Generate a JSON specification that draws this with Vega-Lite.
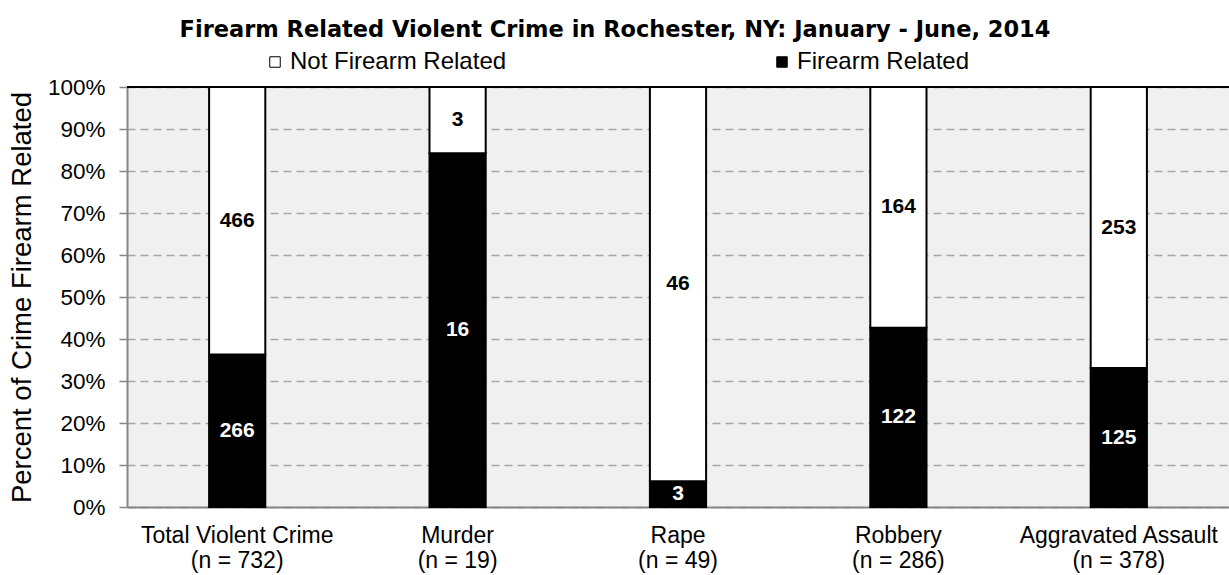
{
  "$schema": "https://vega.github.io/schema/vega-lite/v6.json",
  "width": 1102,
  "height": 420,
  "autosize": {"type": "none"},
  "padding": {"left": 127, "top": 87, "right": 0, "bottom": 68},
  "background": "white",
  "title": {
    "text": "Firearm Related Violent Crime in Rochester, NY: January - June, 2014",
    "font": "DejaVu Sans",
    "fontSize": 22.5,
    "fontWeight": "bold",
    "color": "black",
    "anchor": "middle",
    "frame": "group",
    "dx": -63,
    "offset": 9
  },
  "config": {
    "view": {"fill": "#f0f0f0", "stroke": null},
    "font": "Liberation Sans"
  },
  "data": {
    "values": [
      {"crime": "Total Violent Crime|(n = 732)", "type": "Firearm Related", "count": 266, "ord": 0},
      {"crime": "Total Violent Crime|(n = 732)", "type": "Not Firearm Related", "count": 466, "ord": 1},
      {"crime": "Murder|(n = 19)", "type": "Firearm Related", "count": 16, "ord": 0},
      {"crime": "Murder|(n = 19)", "type": "Not Firearm Related", "count": 3, "ord": 1},
      {"crime": "Rape|(n = 49)", "type": "Firearm Related", "count": 3, "ord": 0},
      {"crime": "Rape|(n = 49)", "type": "Not Firearm Related", "count": 46, "ord": 1},
      {"crime": "Robbery|(n = 286)", "type": "Firearm Related", "count": 122, "ord": 0},
      {"crime": "Robbery|(n = 286)", "type": "Not Firearm Related", "count": 164, "ord": 1},
      {"crime": "Aggravated Assault|(n = 378)", "type": "Firearm Related", "count": 125, "ord": 0},
      {"crime": "Aggravated Assault|(n = 378)", "type": "Not Firearm Related", "count": 253, "ord": 1}
    ]
  },
  "transform": [
    {"stack": "count", "groupby": ["crime"], "sort": [{"field": "ord", "order": "ascending"}], "as": ["y0", "y1"], "offset": "normalize"},
    {"calculate": "(datum.y0 + datum.y1) / 2", "as": "ymid"}
  ],
  "layer": [
    {
      "mark": {"type": "bar", "stroke": "black", "strokeWidth": 2},
      "encoding": {
        "x": {
          "field": "crime",
          "type": "nominal",
          "sort": null,
          "scale": {"paddingInner": 0.745, "paddingOuter": 0.3725},
          "axis": {
            "title": null,
            "labelAngle": 0,
            "labelExpr": "split(datum.label, '|')",
            "labelFontSize": 23,
            "labelColor": "black",
            "labelLineHeight": 25,
            "labelPadding": 17,
            "labelLimit": 400,
            "ticks": false,
            "domainColor": "#868686",
            "domainWidth": 2,
            "grid": false
          }
        },
        "y": {
          "field": "y0",
          "type": "quantitative",
          "scale": {"domain": [0, 1]},
          "axis": {
            "title": "Percent of Crime Firearm Related",
            "titleFontSize": 27.5,
            "titleFontWeight": "normal",
            "titleColor": "black",
            "titlePadding": 11,
            "values": [0, 0.1, 0.2, 0.3, 0.4, 0.5, 0.6, 0.7, 0.8, 0.9, 1],
            "format": ".0%",
            "labelFontSize": 22.5,
            "labelColor": "black",
            "labelPadding": 14,
            "tickColor": "#868686",
            "tickSize": 8,
            "tickWidth": 1.5,
            "domainColor": "#868686",
            "domainWidth": 2,
            "grid": true,
            "gridColor": "#a6a6a6",
            "gridDash": [8, 5],
            "gridWidth": 1.5
          }
        },
        "y2": {"field": "y1"},
        "fill": {
          "field": "type",
          "type": "nominal",
          "scale": {"domain": ["Not Firearm Related", "Firearm Related"], "range": ["white", "black"]},
          "legend": {
            "title": null,
            "orient": "none",
            "legendX": 136,
            "legendY": -37,
            "direction": "horizontal",
            "symbolType": "square",
            "symbolSize": 110,
            "symbolStrokeColor": "black",
            "symbolStrokeWidth": 1,
            "labelFontSize": 24,
            "labelColor": "black",
            "labelOffset": 3,
            "columnPadding": 263,
            "labelLimit": 400
          }
        }
      }
    },
    {
      "mark": {"type": "rule", "color": "black", "strokeWidth": 2},
      "encoding": {"y": {"datum": 1}}
    },
    {
      "mark": {"type": "text", "fontSize": 21, "fontWeight": "bold", "baseline": "middle"},
      "encoding": {
        "x": {"field": "crime", "type": "nominal", "sort": null},
        "y": {"field": "ymid", "type": "quantitative"},
        "text": {"field": "count", "type": "quantitative"},
        "color": {
          "condition": {"test": "datum.type == 'Firearm Related'", "value": "white"},
          "value": "black"
        }
      }
    }
  ]
}
